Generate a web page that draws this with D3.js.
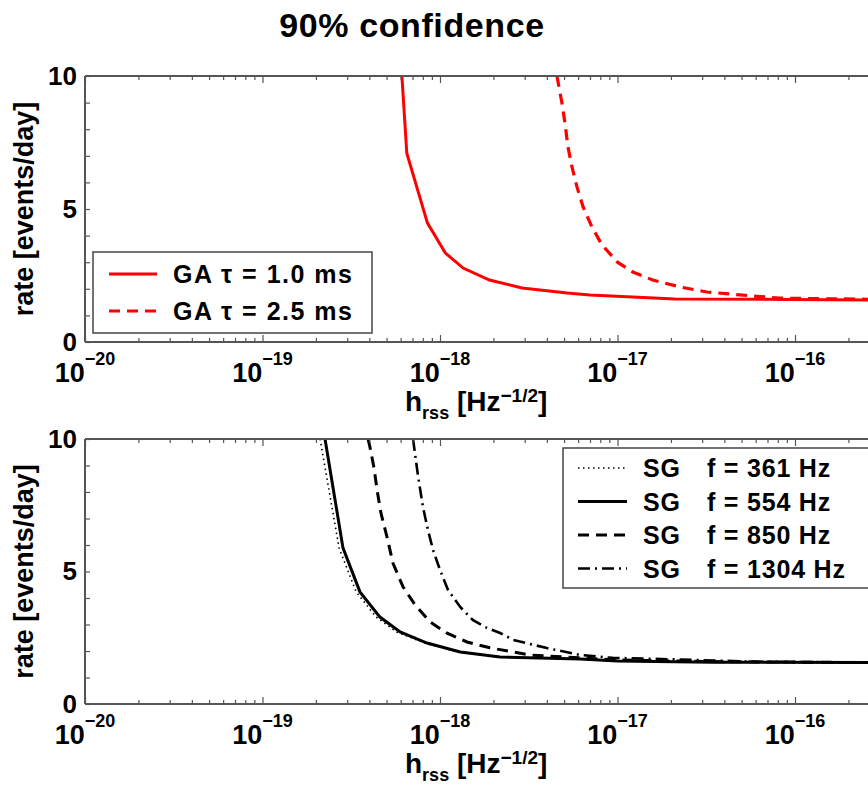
<!DOCTYPE html>
<html>
<head>
<meta charset="utf-8">
<script src="https://cdn.jsdelivr.net/npm/d3@7"></script>
<style>
  body { margin: 0; background: #fff; }
  svg { display: block; overflow: hidden; }
  text { font-family: "Liberation Sans", Arial, Helvetica, sans-serif; font-weight: bold; fill: #000; }
</style>
</head>
<body>
<svg id="chart" width="868" height="787"></svg>
<script>
// GA (top panel), hrss [Hz^-1/2] vs rate [events/day]
const gaTau10H = [6.1e-19, 6.5e-19, 8.5e-19, 1.07e-18, 1.35e-18, 1.9e-18, 2.9e-18, 5.2e-18, 7.0e-18, 2.1e-17, 9.0e-17, 3.0e-16]
const gaTau10Rate = [10, 7.1, 4.47, 3.35, 2.78, 2.33, 2.03, 1.84, 1.77, 1.62, 1.6, 1.58]
const gaTau25H = [4.56e-18, 4.86e-18, 5.06e-18, 5.26e-18, 5.54e-18, 5.91e-18, 6.4e-18, 7.18e-18, 8.18e-18, 1.0e-17, 1.22e-17, 1.58e-17, 2.25e-17, 3.19e-17, 4.9e-17, 8.2e-17, 3.0e-16]
const gaTau25Rate = [10, 9.0, 8.23, 7.33, 6.58, 5.83, 5.08, 4.32, 3.65, 3.0, 2.63, 2.33, 2.07, 1.88, 1.77, 1.65, 1.6]

// SG (bottom panel)
const sg361H = [2.11e-19, 2.7e-19, 3.37e-19, 4.37e-19, 5.7e-19, 8.2e-19, 1.27e-18, 2.15e-18, 6.1e-18, 1.0e-17, 3.45e-17, 3.0e-16]
const sg361Rate = [10, 5.89, 4.23, 3.28, 2.72, 2.3, 1.96, 1.77, 1.70, 1.62, 1.58, 1.56]
const sg554H = [2.25e-19, 2.84e-19, 3.54e-19, 4.59e-19, 5.96e-19, 8.45e-19, 1.30e-18, 2.18e-18, 6.15e-18, 1.0e-17, 3.45e-17, 3.0e-16]
const sg554Rate = [10, 5.89, 4.23, 3.28, 2.72, 2.3, 1.96, 1.77, 1.70, 1.62, 1.58, 1.56]
const sg850H = [3.93e-19, 4.03e-19, 4.25e-19, 4.42e-19, 4.65e-19, 5.03e-19, 5.43e-19, 6.19e-19, 7.23e-19, 8.79e-19, 1.09e-18, 1.42e-18, 1.91e-18, 3.21e-18, 6.15e-18, 1.0e-17, 3.45e-17, 3.0e-16]
const sg850Rate = [10, 9.7, 8.9, 8.08, 7.2, 6.3, 5.32, 4.42, 3.74, 3.1, 2.68, 2.34, 2.12, 1.85, 1.74, 1.66, 1.6, 1.56]
const sg1304H = [7.05e-19, 7.52e-19, 8.02e-19, 8.55e-19, 9.14e-19, 1.0e-18, 1.11e-18, 1.30e-18, 1.53e-18, 1.84e-18, 2.18e-18, 2.58e-18, 4.0e-18, 6.15e-18, 9.4e-18, 2.25e-17, 5.6e-17, 3.0e-16]
const sg1304Rate = [10, 8.6, 7.43, 6.57, 5.81, 5.06, 4.3, 3.66, 3.17, 2.87, 2.68, 2.42, 2.11, 1.85, 1.74, 1.68, 1.6, 1.56]

const gaLabels = ["GA \u03c4 = 1.0 ms", "GA \u03c4 = 2.5 ms"]
const sgNames = ["SG", "SG", "SG", "SG"]
const sgFreqLabels = ["f = 361 Hz", "f = 554 Hz", "f = 850 Hz", "f = 1304 Hz"]

// labelled decades (the axis runs on past the right edge of the picture)
const xDecades = [-20, -19, -18, -17, -16]
const yTicks = d3.range(0, 11)
const yLabelled = [0, 5, 10]

const svg = d3.select("#chart")

const left = 85
const x = d3.scaleLog().domain([1e-20, 1e-15]).range([left, left + 177.5 * 5])

const zip = (hs, rs) => hs.map((h, i) => ({ h: h, r: rs[i] }))

svg.append("text")
  .attr("x", 412).attr("y", 37)
  .attr("text-anchor", "middle")
  .style("font-size", "34px")
  .style("letter-spacing", "0.6px")
  .text("90% confidence")

function drawPanel(id, top, bottom, series, drawLegend) {
  const y = d3.scaleLinear().domain([0, 10]).range([bottom, top])
  const g = svg.append("g").attr("id", id)

  g.append("clipPath").attr("id", id + "-clip")
    .append("rect")
      .attr("x", left).attr("y", top)
      .attr("width", 900).attr("height", bottom - top)

  // curves
  const line = d3.line().x(d => x(d.h)).y(d => y(d.r))
  g.append("g").attr("clip-path", `url(#${id}-clip)`)
    .selectAll(".curve")
    .data(series).enter()
      .append("path")
        .attr("class", "curve")
        .attr("d", s => line(s.points))
        .attr("fill", "none")
        .attr("stroke", s => s.color)
        .attr("stroke-width", s => s.width)
        .attr("stroke-dasharray", s => s.dash)

  // minor / major x ticks, inside, on bottom and top
  const allTicks = x.ticks()
  const majors = allTicks.filter(t => Math.abs(Math.log10(t) - Math.round(Math.log10(t))) < 1e-6)
  const minors = allTicks.filter(t => !majors.includes(t))
  const axisStyle = sel => {
    sel.select(".domain").remove()
    sel.selectAll(".tick line").attr("stroke", "#555").attr("stroke-width", 1.2)
  }
  g.append("g").attr("transform", `translate(0,${bottom})`)
    .call(d3.axisBottom(x).tickValues(minors).tickSize(-4).tickFormat(""))
    .call(axisStyle)
  g.append("g").attr("transform", `translate(0,${bottom})`)
    .call(d3.axisBottom(x).tickValues(majors).tickSize(-7).tickFormat(""))
    .call(axisStyle)
  g.append("g").attr("transform", `translate(0,${top})`)
    .call(d3.axisTop(x).tickValues(minors).tickSize(-4).tickFormat(""))
    .call(axisStyle)
  g.append("g").attr("transform", `translate(0,${top})`)
    .call(d3.axisTop(x).tickValues(majors).tickSize(-7).tickFormat(""))
    .call(axisStyle)

  // y axis
  g.append("g").attr("transform", `translate(${left},0)`)
    .call(d3.axisLeft(y).tickValues(yTicks).tickSize(-5).tickPadding(8)
      .tickFormat(d => yLabelled.includes(d) ? d : ""))
    .call(axisStyle)
    .call(sel => sel.selectAll(".tick text")
      .style("font-size", "26px").style("font-family", null).attr("fill", "#000"))

  // frame
  g.append("line").attr("x1", left).attr("x2", 880).attr("y1", top).attr("y2", top)
    .attr("stroke", "#555").attr("stroke-width", 2)
  g.append("line").attr("x1", left).attr("x2", 880).attr("y1", bottom).attr("y2", bottom)
    .attr("stroke", "#555").attr("stroke-width", 2)
  g.append("line").attr("x1", left).attr("x2", left).attr("y1", top).attr("y2", bottom)
    .attr("stroke", "#555").attr("stroke-width", 2)

  // decade labels 10^n
  const lab = g.selectAll(".xlab")
    .data(xDecades).enter()
      .append("text")
        .attr("class", "xlab")
        .attr("x", d => x(Math.pow(10, d)))
        .attr("y", bottom + 40)
        .attr("text-anchor", "middle")
  lab.append("tspan").style("font-size", "27px").text("10")
  lab.append("tspan").attr("dy", -17).style("font-size", "18px").text(d => "\u2212" + Math.abs(d))

  // x title
  const xt = g.append("text").attr("x", 405).attr("y", bottom + 69).style("font-size", "28px")
  xt.append("tspan").text("h")
  xt.append("tspan").attr("dy", 8).style("font-size", "18px").text("rss")
  xt.append("tspan").attr("dy", -8).text(" [Hz")
  xt.append("tspan").attr("dy", -9).style("font-size", "19px").text("\u22121/2")
  xt.append("tspan").attr("dy", 9).text("]")

  // y title
  g.append("text")
    .attr("transform", `translate(33,${(top + bottom) / 2}) rotate(-90)`)
    .attr("text-anchor", "middle")
    .style("font-size", "27px")
    .text("rate [events/day]")

  drawLegend(g)
}

const gaSeries = [
  { points: zip(gaTau10H, gaTau10Rate), color: "#ff0000", width: 3, dash: null },
  { points: zip(gaTau25H, gaTau25Rate), color: "#ff0000", width: 3.2, dash: "11,7" }
]
const sgSeries = [
  { points: zip(sg361H, sg361Rate), color: "#000", width: 1.6, dash: "1.5,3.5" },
  { points: zip(sg554H, sg554Rate), color: "#000", width: 3, dash: null },
  { points: zip(sg850H, sg850Rate), color: "#000", width: 3, dash: "11,7" },
  { points: zip(sg1304H, sg1304Rate), color: "#000", width: 2.6, dash: "12,5,2,5" }
]

drawPanel("ga", 76, 342, gaSeries, g => {
  g.append("rect").attr("x", 93).attr("y", 252).attr("width", 279).attr("height", 81)
    .attr("fill", "#fff").attr("stroke", "#444").attr("stroke-width", 1.5)
  const rows = g.selectAll(".gaLeg").data(gaSeries).enter().append("g")
    .attr("transform", (d, i) => `translate(0,${274 + i * 37})`)
  rows.append("line").attr("x1", 109).attr("x2", 157)
    .attr("stroke", d => d.color).attr("stroke-width", 3.2)
    .attr("stroke-dasharray", d => d.dash)
  rows.append("text").attr("x", 173).attr("y", 9)
    .style("font-size", "25px").style("letter-spacing", "1.5px")
    .text((d, i) => gaLabels[i])
})

drawPanel("sg", 439, 704, sgSeries, g => {
  g.append("rect").attr("x", 563).attr("y", 448).attr("width", 330).attr("height", 140)
    .attr("fill", "#fff").attr("stroke", "#444").attr("stroke-width", 1.5)
  const rows = g.selectAll(".sgLeg").data(sgSeries).enter().append("g")
    .attr("transform", (d, i) => `translate(0,${468 + i * 33.5})`)
  rows.append("line").attr("x1", 578).attr("x2", 627)
    .attr("stroke", d => d.color).attr("stroke-width", d => d.width)
    .attr("stroke-dasharray", d => d.dash)
  rows.append("text").attr("x", 643).attr("y", 9)
    .style("font-size", "25px").style("letter-spacing", "0.8px")
    .text((d, i) => sgNames[i])
  rows.append("text").attr("x", 707).attr("y", 9)
    .style("font-size", "25px").style("letter-spacing", "0.8px")
    .text((d, i) => sgFreqLabels[i])
})
</script>
</body>
</html>
